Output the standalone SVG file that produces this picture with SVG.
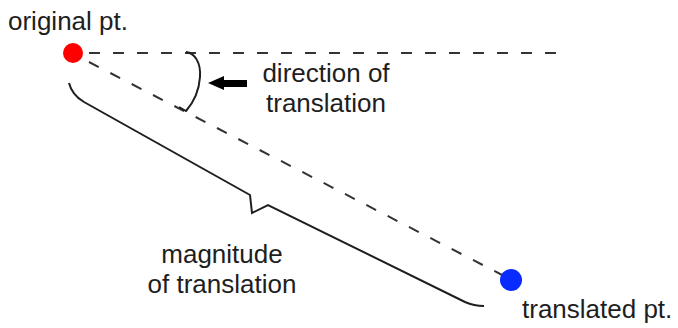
<svg xmlns="http://www.w3.org/2000/svg" width="678" height="328" viewBox="0 0 678 328">
  <style>
    .label { font-family: "Liberation Sans", Arial, Helvetica, sans-serif; font-size: 26px; fill: #1e1e1e; }
    .dash { fill: none; stroke: #333; stroke-width: 2; stroke-dasharray: 11 13; }
    .line { fill: none; stroke: #1e1e1e; stroke-width: 2; stroke-linejoin: miter; }
  </style>
  <rect width="678" height="328" fill="#fff"/>

  <g id="connectors">
    <!-- horizontal reference line -->
    <line class="dash" x1="89" y1="53" x2="560" y2="53"/>
    <!-- translation direction line -->
    <line class="dash" x1="89" y1="62" x2="506" y2="277"/>
    <!-- angle arc -->
    <path class="line" d="M186,52 C195,53 201,63 200,77 C199,92 193,103 186,111 L179,107"/>
    <!-- direction arrow -->
    <path id="arrow" d="M208,83 L224,76 L224,80 L247,80 L247,87 L224,87 L224,90 Z" fill="#000"/>
    <!-- magnitude brace -->
    <path class="line" d="M69,83 Q72,95 84,102 L250,195 L252,213 L268,205 L465,302 Q474,306 484,306"/>
  </g>

  <g id="original-pt">
    <circle cx="73" cy="53" r="10" fill="#ff0000"/>
    <text class="label" x="8" y="30">original pt.</text>
  </g>

  <g id="translated-pt">
    <circle cx="511" cy="280" r="11" fill="#0a2bff"/>
    <text class="label" x="522" y="318">translated pt.</text>
  </g>

  <g id="direction-label">
    <text class="label" x="326" y="82" text-anchor="middle">direction of</text>
    <text class="label" x="326" y="112" text-anchor="middle">translation</text>
  </g>

  <g id="magnitude-label">
    <text class="label" x="222" y="263" text-anchor="middle">magnitude</text>
    <text class="label" x="222" y="293" text-anchor="middle">of translation</text>
  </g>
</svg>
